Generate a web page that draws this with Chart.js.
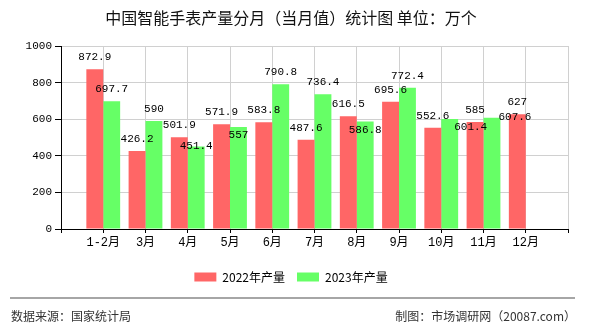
<!DOCTYPE html>
<html>
<head>
<meta charset="utf-8">
<script src="https://cdn.jsdelivr.net/npm/chart.js@4"></script>
<style>
    body { margin: 0; background: #fff; }
    canvas { display: block; }
</style>
</head>
<body>
<canvas id="chart" width="590" height="330"></canvas>
<script>
// months shown on the x axis (empty slots pad both ends like the original)
const months = ['1-2月', '3月', '4月', '5月', '6月', '7月', '8月', '9月', '10月', '11月', '12月']
const output2022 = [872.9, 426.2, 501.9, 571.9, 583.8, 487.6, 616.5, 695.6, 552.6, 585, 627]
const output2023 = [697.7, 590, 451.4, 557, 790.8, 736.4, 586.8, 772.4, 601.4, 607.6, null]
const yTicks = [0, 200, 400, 600, 800, 1000]

// labels that the original pushed aside to avoid overlapping: [dataset, month index, dx, dy]
const labelNudges = [[1, 2, 0, 12], [1, 3, 0, 20], [1, 6, 0, 20], [1, 8, 21, 20], [1, 9, 23, 11]]

const monoFont = '"Liberation Mono", "Noto Sans CJK SC", monospace'
const cjkFont = '"Noto Sans CJK SC", sans-serif'

// pad with an empty slot before and after so the bars sit on the grid lines
let labels = [''].concat(months, [''])
let pad = arr => [null].concat(arr, [null])

// draw value labels above the bars
const valueLabels = {
    id: 'valueLabels',
    afterDatasetsDraw(chart) {
        let ctx = chart.ctx
        ctx.save()
        ctx.font = '11px ' + monoFont
        ctx.fillStyle = '#000'
        ctx.textAlign = 'center'
        ctx.textBaseline = 'middle'
        chart.data.datasets.forEach((ds, di) => {
            chart.getDatasetMeta(di).data.forEach((bar, i) => {
                let v = ds.data[i]
                if (v === null) return
                let dx = 0, dy = 0
                for (let n of labelNudges) {
                    if (n[0] === di && n[1] === i - 1) { dx = n[2]; dy = n[3] }
                }
                ctx.fillText(String(v), bar.x + dx, bar.y - 12 + dy)
            })
        })
        ctx.restore()
    }
}

// footer line and source texts
const footer = {
    id: 'footer',
    afterDraw(chart) {
        let ctx = chart.ctx
        ctx.save()
        ctx.strokeStyle = '#888'
        ctx.lineWidth = 1.5
        ctx.beginPath()
        ctx.moveTo(10, 298)
        ctx.lineTo(575, 298)
        ctx.stroke()
        ctx.font = '12px ' + cjkFont
        ctx.fillStyle = '#333'
        ctx.textBaseline = 'middle'
        ctx.textAlign = 'left'
        ctx.fillText('数据来源：国家统计局', 11, 316)
        ctx.textAlign = 'right'
        ctx.fillText('制图：市场调研网（20087.com）', 576, 316)
        ctx.restore()
    }
}

let chart = new Chart(document.getElementById('chart'), {
    type: 'bar',
    data: {
        labels: labels,
        datasets: [{
            label: '2022年产量',
            data: pad(output2022),
            backgroundColor: '#ff6666',
            categoryPercentage: 0.8,
            barPercentage: 1.0
        }, {
            label: '2023年产量',
            data: pad(output2023),
            backgroundColor: '#66ff66',
            categoryPercentage: 0.8,
            barPercentage: 1.0
        }]
    },
    options: {
        responsive: false,
        animation: false,
        devicePixelRatio: 1,
        layout: {
            padding: { top: 0, left: 14, right: 22, bottom: 37 }
        },
        scales: {
            x: {
                offset: false,
                afterFit: scale => { scale.height = 30 },
                grid: { color: '#d0d0d0', tickColor: '#000', tickLength: 4, offset: false },
                border: { color: '#000' },
                ticks: {
                    autoSkip: false,
                    maxRotation: 0,
                    padding: 3,
                    color: '#000',
                    font: { size: 12, family: monoFont }
                }
            },
            y: {
                min: 0,
                max: 1000,
                afterFit: scale => { scale.width = 47 },
                afterBuildTicks: scale => { scale.ticks = yTicks.map(v => ({ value: v })) },
                grid: { color: '#d0d0d0', tickColor: '#000', tickLength: 6 },
                border: { color: '#000' },
                ticks: {
                    padding: 3,
                    color: '#000',
                    font: { size: 11, family: monoFont },
                    callback: v => String(v)
                }
            }
        },
        plugins: {
            title: {
                display: true,
                text: '中国智能手表产量分月（当月值）统计图 单位：万个',
                color: '#111',
                font: { size: 16, weight: 'normal', family: cjkFont },
                padding: { top: 8, bottom: 18.8 }
            },
            legend: {
                position: 'bottom',
                labels: {
                    boxWidth: 22,
                    boxHeight: 9,
                    padding: 12,
                    color: '#000',
                    font: { size: 12, family: cjkFont }
                }
            },
            tooltip: { enabled: false }
        }
    },
    plugins: [valueLabels, footer]
})
</script>
</body>
</html>
